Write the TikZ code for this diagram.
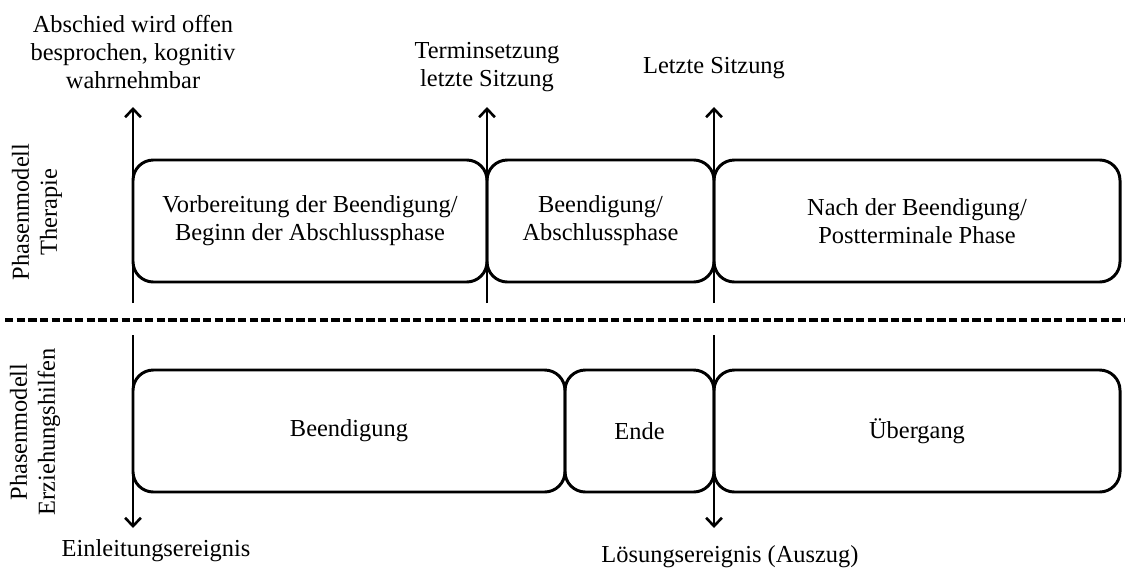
\documentclass[tikz,border=0pt]{standalone}
\usepackage{fontspec}
\setmainfont{Liberation Serif}
\usetikzlibrary{arrows.meta}

\tikzset{
    phase/.style={draw, rectangle, rounded corners=11pt, line width=1.6pt, align=center, inner sep=0pt},
    event/.style={line width=1.6pt, -{Straight Barb[length=4.5pt, width=8.5pt, line width=1.4pt]}},
    lbl/.style={align=center, inner sep=1pt}
}

\begin{document}
\begin{tikzpicture}[x=0.019cm, y=-0.019cm, font=\fontsize{13.2}{15.2}\selectfont]
        \useasboundingbox (0,0) rectangle (1125,570);

        % Therapie
        \node[phase, minimum width=354*0.019cm, minimum height=122*0.019cm] (v) at (310,221) {Vorbereitung der Beendigung/\\Beginn der Abschlussphase};
        \node[phase, minimum width=227*0.019cm, minimum height=122*0.019cm] (b) at (600.5,221) {Beendigung/\\Abschlussphase};
        \node[phase, minimum width=406*0.019cm, minimum height=122*0.019cm] (n) at (917,221) {Nach der Beendigung/\\Postterminale Phase};

        \coordinate (a1) at (133,303);
        \coordinate (a2) at (487,303);
        \coordinate (a3) at (714,303);
        \coordinate (e1) at (133,107);
        \coordinate (e2) at (487,107);
        \coordinate (e3) at (714,107);
        \draw[event] (a1) -- (e1);
        \draw[event] (a2) -- (e2);
        \draw[event] (a3) -- (e3);

        \node[lbl] (abschied) at (133,52) {Abschied wird offen\\besprochen, kognitiv\\wahrnehmbar};
        \node[lbl] (termin) at (487,67) {Terminsetzung\\letzte Sitzung};
        \node[lbl] (letzte) at (714,68) {Letzte Sitzung};

        % Trennlinie
        \coordinate (dl) at (5,320);
        \coordinate (dr) at (1125,320);
        \draw[line width=1.7pt, dash pattern=on 4.5pt off 1.8pt] (dl) -- (dr);

        % Erziehungshilfen
        \node[phase, minimum width=432*0.019cm, minimum height=122*0.019cm] (be) at (349,431) {Beendigung};
        \node[phase, minimum width=149*0.019cm, minimum height=122*0.019cm] (en) at (639.5,431) {Ende};
        \node[phase, minimum width=406*0.019cm, minimum height=122*0.019cm] (ue) at (917,431) {Übergang};

        \coordinate (s1) at (133,335);
        \coordinate (s2) at (714,335);
        \coordinate (f1) at (133,528);
        \coordinate (f2) at (714,528);
        \draw[event] (s1) -- (f1);
        \draw[event] (s2) -- (f2);

        \node[lbl] (einleitung) at (156,551) {Einleitungsereignis};
        \node[lbl] (loesung) at (730,557) {Lösungsereignis (Auszug)};

        % Modelle
        \node[lbl, rotate=90] (therapie) at (37,212) {Phasenmodell\\Therapie};
        \node[lbl, rotate=90] (erziehung) at (35,432) {Phasenmodell\\Erziehungshilfen};
    \end{tikzpicture}
\end{document}
